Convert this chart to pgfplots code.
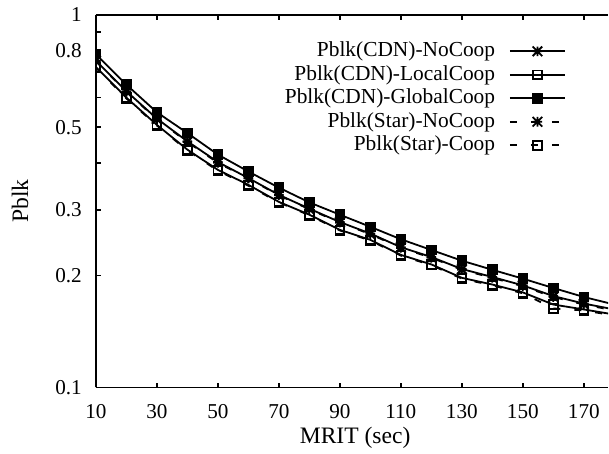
\documentclass[border=0pt]{standalone}
\usepackage{pgfplots}
\pgfplotsset{compat=1.18}
\usepackage{fontspec}
\setmainfont{Liberation Serif}
\pgfdeclareplotmark{gpstar}{%
 \pgfpathmoveto{\pgfqpoint{-\pgfplotmarksize}{0pt}}\pgfpathlineto{\pgfqpoint{\pgfplotmarksize}{0pt}}%
 \pgfpathmoveto{\pgfqpoint{0pt}{-\pgfplotmarksize}}\pgfpathlineto{\pgfqpoint{0pt}{\pgfplotmarksize}}%
 \pgfpathmoveto{\pgfqpoint{-\pgfplotmarksize}{-\pgfplotmarksize}}\pgfpathlineto{\pgfqpoint{\pgfplotmarksize}{\pgfplotmarksize}}%
 \pgfpathmoveto{\pgfqpoint{-\pgfplotmarksize}{\pgfplotmarksize}}\pgfpathlineto{\pgfqpoint{\pgfplotmarksize}{-\pgfplotmarksize}}%
 \pgfusepathqstroke}
\begin{document}
\begin{tikzpicture}
\begin{axis}[
  scale only axis, width=256.5pt, height=186.5pt,
  ymode=log, xmin=10, xmax=178, ymin=0.1, ymax=1,
  axis x line=box, axis y line=left, axis line style={-, line width=0.8pt},
  tick align=inside, major tick length=2.5pt, yminorticks=false, xminorticks=false,
  xtick={10,30,...,170}, xtick pos=both,
  ytick={0.1,0.2,0.3,0.4,0.5,0.6,0.8,0.9,1},
  yticklabels={\mbox{0.1},\mbox{0.2},\mbox{0.3},,\mbox{0.5},,\mbox{0.8},,\mbox{1}},
  /pgf/number format/assume math mode=true,
  tick label style={font=\fontsize{10.6}{12}\selectfont},
  xticklabel style={yshift=-4.7pt},
  yticklabel style={xshift=-3.5pt},
  tick style={line width=0.8pt, black},
  xlabel={MRIT (sec)}, ylabel={Pblk},
  label style={font=\fontsize{11.8}{14}\selectfont},
  xlabel style={at={(axis description cs:0.506,0)}, anchor=north, inner sep=0pt, yshift=-19.5pt},
  ylabel style={at={(axis description cs:0,0.5)}, anchor=center, inner sep=0pt, rotate=0, yshift=38pt},
  clip marker paths=true,
  legend plot pos=right,
  legend cell align=right,
  legend image code/.code={\draw[mark repeat=2,mark phase=2] plot coordinates {(0pt,0pt) (13.75pt,0pt) (27.5pt,0pt)};},
  legend style={draw=none, fill=none, at={(axis description cs:0.918,0.93)}, anchor=north east,
    inner sep=0pt, row sep=1.85pt, font=\fontsize{10.7}{12}\selectfont,
    nodes={inner sep=0pt, text height=7.6pt, text depth=2.3pt},
    /tikz/every odd column/.append style={column sep=7pt}},
  every axis plot/.append style={line width=0.9pt, black, mark size=2.2pt},
]
\coordinate (sw) at (rel axis cs:0,0);
\coordinate (ne) at (rel axis cs:1,1);
\addplot[mark=gpstar, mark size=2.4pt] coordinates {(10,0.754)(20,0.624)(30,0.527)(40,0.458)(50,0.403)(60,0.365)(70,0.329)(80,0.302)(90,0.278)(100,0.259)(110,0.238)(120,0.224)(130,0.208)(140,0.198)(150,0.188)(160,0.176)(170,0.168)(180,0.162)};
\addlegendentry{Pblk(CDN)-NoCoop}
\addplot[mark=square] coordinates {(10,0.725)(20,0.600)(30,0.507)(40,0.435)(50,0.384)(60,0.350)(70,0.315)(80,0.291)(90,0.265)(100,0.249)(110,0.227)(120,0.214)(130,0.197)(140,0.189)(150,0.180)(160,0.167)(170,0.162)(180,0.157)};
\addlegendentry{Pblk(CDN)-LocalCoop}
\addplot[mark=square*, mark options={fill=black}] coordinates {(10,0.785)(20,0.650)(30,0.548)(40,0.482)(50,0.422)(60,0.380)(70,0.344)(80,0.314)(90,0.291)(100,0.270)(110,0.250)(120,0.234)(130,0.219)(140,0.207)(150,0.196)(160,0.185)(170,0.175)(180,0.167)};
\addlegendentry{Pblk(CDN)-GlobalCoop}
\addplot[dash pattern=on 3.5pt off 7pt, mark=gpstar, mark size=2.4pt, mark options={solid}] coordinates {(10,0.752)(20,0.622)(30,0.525)(40,0.456)(50,0.401)(60,0.364)(70,0.328)(80,0.301)(90,0.277)(100,0.258)(110,0.237)(120,0.223)(130,0.207)(140,0.197)(150,0.187)(160,0.175)(170,0.167)(180,0.161)};
\addlegendentry{Pblk(Star)-NoCoop}
\addplot[dash pattern=on 3.5pt off 7pt, mark=square, mark options={solid}] coordinates {(10,0.722)(20,0.597)(30,0.505)(40,0.433)(50,0.382)(60,0.348)(70,0.314)(80,0.290)(90,0.264)(100,0.248)(110,0.226)(120,0.213)(130,0.196)(140,0.188)(150,0.179)(160,0.163)(170,0.161)(180,0.156)};
\addlegendentry{Pblk(Star)-Coop}
\end{axis}
\path ([shift={(-48pt,-33pt)}]sw) rectangle ([shift={(0pt,7.5pt)}]ne);
\end{tikzpicture}
\end{document}
